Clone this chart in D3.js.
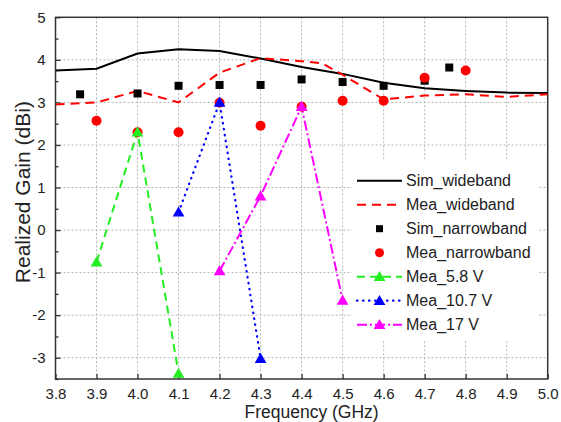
<!DOCTYPE html>
<html><head><meta charset="utf-8">
<script src="https://cdn.jsdelivr.net/npm/d3@7"></script>
<style>
html,body{margin:0;padding:0;background:#fff;}
svg{display:block;font-family:"Liberation Sans",Arial,sans-serif;}
</style></head>
<body>
<svg id="chart" width="561" height="422"></svg>
<script>
// ---- data ----
const xTicks = [3.8,3.9,4.0,4.1,4.2,4.3,4.4,4.5,4.6,4.7,4.8,4.9,5.0];
const yTicks = [-3,-2,-1,0,1,2,3,4,5];
const yMinor = [-3.5,-2.5,-1.5,-0.5,0.5,1.5,2.5,3.5,4.5];

const simWideF = [3.8,3.9,4.0,4.1,4.2,4.3,4.4,4.5,4.6,4.7,4.8,4.9,5.0];
const simWideG = [3.75,3.79,4.15,4.25,4.21,4.03,3.83,3.67,3.46,3.33,3.27,3.23,3.22];

const meaWideF = [3.8,3.9,4.0,4.1,4.2,4.3,4.4,4.45,4.5,4.6,4.7,4.8,4.9,5.0];
const meaWideG = [2.95,3.00,3.27,3.00,3.70,4.04,3.97,3.92,3.65,3.07,3.16,3.19,3.13,3.19];

const simNarrowF = [3.86,4.0,4.1,4.2,4.3,4.4,4.5,4.6,4.7,4.76];
const simNarrowG = [3.19,3.21,3.39,3.41,3.41,3.54,3.48,3.39,3.51,3.82];

const meaNarrowF = [3.9,4.0,4.1,4.2,4.3,4.4,4.5,4.6,4.7,4.8];
const meaNarrowG = [2.57,2.30,2.30,2.99,2.45,2.90,3.04,3.04,3.58,3.75];

const v58F = [3.9,4.0,4.1];
const v58G = [-0.75,2.30,-3.37];
const v107F = [4.1,4.2,4.3];
const v107G = [0.42,3.00,-3.02];
const v17F = [4.2,4.3,4.4,4.5];
const v17G = [-0.96,0.80,2.90,-1.65];

const legendNames = ["Sim_wideband","Mea_wideband","Sim_narrowband","Mea_narrowband","Mea_5.8 V","Mea_10.7 V","Mea_17 V"];

// ---- layout ----
const svg = d3.select("#chart");
const L = 55.5, R = 547.7, T = 17.3, B = 379;
const x = d3.scaleLinear().domain([3.8,5.0]).range([L,R]);
const y = d3.scaleLinear().domain([-3.5,5]).range([B,T]);
const zip = (a,b)=>a.map((v,i)=>[v,b[i]]);

// grid
const grid = svg.append("g").attr("stroke","#b4b4b4").attr("stroke-width",1).attr("stroke-dasharray","2,2");
xTicks.slice(1,-1).forEach(t=>grid.append("line").attr("x1",x(t)).attr("x2",x(t)).attr("y1",T).attr("y2",B));
yTicks.slice(0,-1).forEach(t=>grid.append("line").attr("x1",L).attr("x2",R).attr("y1",y(t)).attr("y2",y(t)));

// legend background
svg.append("rect").attr("x",352).attr("y",161).attr("width",186).attr("height",180).attr("fill","#fff");

// axes
const axisColor = "#333";
const xAxis = svg.append("g").attr("transform",`translate(0,${B})`)
  .call(d3.axisBottom(x).tickValues(xTicks).tickSize(-5).tickPadding(10).tickFormat(d3.format(".1f")));
const yAxis = svg.append("g").attr("transform",`translate(${L},0)`)
  .call(d3.axisLeft(y).tickValues(yTicks).tickSize(-5).tickPadding(10).tickFormat(d=>d));
const yAxisMinor = svg.append("g").attr("transform",`translate(${L},0)`)
  .call(d3.axisLeft(y).tickValues(yMinor).tickSize(-3).tickFormat(""));
[xAxis,yAxis,yAxisMinor].forEach(g=>{
  g.selectAll("line").attr("stroke",axisColor).attr("stroke-width",1.3);
  g.select(".domain").remove();
  g.selectAll("text").attr("fill","#222").style("font-size","15px").style("font-family","'Liberation Sans',Arial,sans-serif");
});
xAxis.selectAll("text").attr("dy","0.71em").attr("y",9);
// frame
svg.append("rect").attr("x",L).attr("y",T).attr("width",R-L).attr("height",B-T)
  .attr("fill","none").attr("stroke",axisColor).attr("stroke-width",1.5);

// axis titles
svg.append("text").attr("x",(L+R)/2+10).attr("y",418).attr("text-anchor","middle")
  .style("font-size","17.5px").attr("fill","#222").text("Frequency (GHz)");
svg.append("text").attr("transform",`translate(30,${(T+B)/2-6}) rotate(-90)`).attr("text-anchor","middle")
  .style("font-size","21px").attr("fill","#222").text("Realized Gain (dBi)");

// clip
svg.append("clipPath").attr("id","clip").append("rect").attr("x",L).attr("y",T).attr("width",R-L).attr("height",B-T);
const plot = svg.append("g").attr("clip-path","url(#clip)");
const line = d3.line().x(d=>x(d[0])).y(d=>y(d[1]));

const styles = {
  simWide:{stroke:"#000",w:2,dash:null,cap:"butt"},
  meaWide:{stroke:"#ff0000",w:2,dash:"9,6",cap:"butt"},
  v58:{stroke:"#22ee22",w:2,dash:"8,5",cap:"butt"},
  v107:{stroke:"#0000ff",w:2.2,dash:"0.5,5.5",cap:"round"},
  v17:{stroke:"#ff00ff",w:2,dash:"10,3,2,3",cap:"butt"}
};
function drawLine(data,s){
  plot.append("path").datum(data).attr("d",line).attr("fill","none")
    .attr("stroke",s.stroke).attr("stroke-width",s.w).attr("stroke-dasharray",s.dash)
    .attr("stroke-linecap",s.cap);
}
drawLine(zip(simWideF,simWideG),styles.simWide);
drawLine(zip(meaWideF,meaWideG),styles.meaWide);
drawLine(zip(v58F,v58G),styles.v58);
drawLine(zip(v107F,v107G),styles.v107);
drawLine(zip(v17F,v17G),styles.v17);

const tri = d3.symbol().type(d3.symbolTriangle).size(60);
function squares(g,data){
  g.selectAll(null).data(data).enter().append("rect")
    .attr("x",d=>x(d[0])-4).attr("y",d=>y(d[1])-4).attr("width",8).attr("height",8).attr("fill","#000");
}
function circles(g,data){
  g.selectAll(null).data(data).enter().append("circle")
    .attr("cx",d=>x(d[0])).attr("cy",d=>y(d[1])).attr("r",5).attr("fill","#ff0000");
}
function triangles(g,data,color){
  g.selectAll(null).data(data).enter().append("path").attr("d",tri)
    .attr("transform",d=>`translate(${x(d[0])},${y(d[1])+1})`).attr("fill",color);
}
const mk = svg.append("g");
squares(mk,zip(simNarrowF,simNarrowG));
circles(mk,zip(meaNarrowF,meaNarrowG));
triangles(mk,zip(v58F,v58G),"#22ee22");
triangles(mk,zip(v107F,v107G),"#0000ff");
triangles(mk,zip(v17F,v17G),"#ff00ff");

// legend
const lg = svg.append("g");
const lx1 = 357, lx2 = 402, lxm = 379.5, ly0 = 180.7, ldy = 24;
legendNames.forEach((name,i)=>{
  const yy = ly0 + i*ldy;
  if(i===0) lg.append("line").attr("x1",lx1).attr("x2",lx2).attr("y1",yy).attr("y2",yy).attr("stroke","#000").attr("stroke-width",2);
  if(i===1) lg.append("line").attr("x1",lx1).attr("x2",lx2).attr("y1",yy).attr("y2",yy).attr("stroke","#ff0000").attr("stroke-width",2).attr("stroke-dasharray","9,6");
  if(i===2) lg.append("rect").attr("x",lxm-3.5).attr("y",yy-3.5).attr("width",7).attr("height",7).attr("fill","#000");
  if(i===3) lg.append("circle").attr("cx",lxm).attr("cy",yy).attr("r",4.5).attr("fill","#ff0000");
  if(i>=4){
    const key = ["v58","v107","v17"][i-4];
    const s = styles[key];
    lg.append("line").attr("x1",lx1).attr("x2",lx2).attr("y1",yy).attr("y2",yy)
      .attr("stroke",s.stroke).attr("stroke-width",s.w).attr("stroke-dasharray",s.dash)
      .attr("stroke-linecap",s.cap);
    lg.append("path").attr("d",tri).attr("transform",`translate(${lxm},${yy+1})`).attr("fill",s.stroke);
  }
  lg.append("text").attr("x",406).attr("y",yy).attr("dy","0.36em")
    .style("font-size","16px").attr("fill","#222").text(name);
});
</script>
</body></html>
